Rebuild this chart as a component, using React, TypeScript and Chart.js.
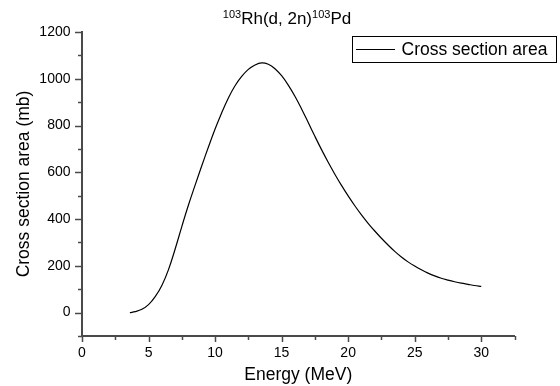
import React, { useEffect, useRef } from 'react';
import { Chart, registerables } from 'chart.js';

Chart.register(...registerables);

// ---- data ----
const energy = [
  3.6, 4.0, 4.5, 5.0, 5.5, 6.0, 6.5, 7.0, 7.5, 8.0, 8.5, 9.0, 9.5, 10.0, 10.5, 11.0, 11.5, 12.0,
  12.5, 13.0, 13.5, 14.0, 14.5, 15.0, 15.5, 16.0, 16.5, 17.0, 17.5, 18.0, 18.5, 19.0, 19.5, 20.0,
  20.5, 21.0, 21.5, 22.0, 22.5, 23.0, 23.5, 24.0, 24.5, 25.0, 25.5, 26.0, 26.5, 27.0, 27.5, 28.0,
  28.5, 29.0, 29.5, 30.0,
];
const crossSection = [
  0, 4, 14, 34, 68, 116, 184, 272, 368, 460, 545, 628, 708, 785, 855, 918, 970, 1010,
  1040, 1059, 1068, 1062, 1043, 1013, 973, 925, 871, 813, 754, 697, 643, 592, 544, 499,
  457, 418, 382, 349, 318, 289, 262, 238, 217, 199, 183, 169, 157, 147, 139, 132,
  126, 121, 116, 112,
];
const xMin = 0;
const xMax = 32.5;
const xMinorStep = 2.5;
const xMajorStep = 5;
const yMin = -100;
const yMax = 1200;
const yMinorStep = 100;
const yMajorStep = 200;

const titleParts = [
  { text: '103', sup: true },
  { text: 'Rh(d, 2n)', sup: false },
  { text: '103', sup: true },
  { text: 'Pd', sup: false },
];
const seriesLabel = 'Cross section area';
const xTitle = 'Energy (MeV)';
const yTitle = 'Cross section area (mb)';

const FONT = '"Liberation Sans", Arial, sans-serif';
const AXIS_COLOR = '#4a4a4a';

const isMultiple = (v: number, step: number) => Math.abs(v / step - Math.round(v / step)) < 1e-6;

const decorPlugin = {
  id: 'decor',
  afterDraw(chart: any) {
    const ctx = chart.ctx as CanvasRenderingContext2D;
    const xs = chart.scales.x;
    const ys = chart.scales.y;
    const area = chart.chartArea;
    ctx.save();
    // tick marks (major and minor), outward
    ctx.strokeStyle = AXIS_COLOR;
    ctx.lineWidth = 1.5;
    xs.ticks.forEach((t: any) => {
      const px = Math.round(xs.getPixelForValue(t.value)) + 0.5;
      const len = isMultiple(t.value, xMajorStep) ? 5 : 3;
      ctx.beginPath();
      ctx.moveTo(px, area.bottom);
      ctx.lineTo(px, area.bottom + len + 1);
      ctx.stroke();
    });
    ys.ticks.forEach((t: any) => {
      const py = Math.round(ys.getPixelForValue(t.value)) + 0.5;
      const len = isMultiple(t.value, yMajorStep) ? 6 : 3;
      ctx.beginPath();
      ctx.moveTo(area.left, py);
      ctx.lineTo(area.left - len - 1, py);
      ctx.stroke();
    });

    // title with superscripts
    const mainFont = `17px ${FONT}`;
    const supFont = `11px ${FONT}`;
    let total = 0;
    titleParts.forEach((p) => {
      ctx.font = p.sup ? supFont : mainFont;
      total += ctx.measureText(p.text).width;
    });
    let x = 287 - total / 2;
    const baseY = 24;
    ctx.fillStyle = '#000';
    ctx.textBaseline = 'alphabetic';
    ctx.textAlign = 'left';
    titleParts.forEach((p) => {
      ctx.font = p.sup ? supFont : mainFont;
      ctx.fillText(p.text, x, p.sup ? baseY - 6 : baseY);
      x += ctx.measureText(p.text).width;
    });

    // legend box
    const lx = 352.5;
    const ly = 36.5;
    const lw = 204;
    const lh = 26;
    ctx.strokeStyle = '#000';
    ctx.lineWidth = 1;
    ctx.strokeRect(lx, ly, lw, lh);
    ctx.beginPath();
    ctx.moveTo(356, 49.5);
    ctx.lineTo(395, 49.5);
    ctx.lineWidth = 1.2;
    ctx.stroke();
    ctx.font = `17.5px ${FONT}`;
    ctx.textBaseline = 'middle';
    ctx.fillText(seriesLabel, 401.5, 50);
    ctx.restore();
  },
};

export default function App() {
  const canvasRef = useRef<HTMLCanvasElement | null>(null);

  useEffect(() => {
    const canvas = canvasRef.current;
    if (!canvas) return;
    const points = energy.map((e, i) => ({ x: e, y: crossSection[i] }));
    const chart = new Chart(canvas, {
      type: 'line',
      data: {
        datasets: [
          {
            label: seriesLabel,
            data: points,
            borderColor: '#000',
            borderWidth: 1.2,
            pointRadius: 0,
            fill: false,
            tension: 0.4,
          },
        ],
      },
      options: {
        animation: false,
        responsive: false,
        devicePixelRatio: 1,
        layout: { padding: { top: 32, right: 45.5, bottom: 0, left: 0 } },
        plugins: {
          legend: { display: false },
          title: { display: false },
          tooltip: { enabled: false },
        },
        scales: {
          x: {
            type: 'linear',
            min: xMin,
            max: xMax,
            afterFit: (s: any) => {
              s.height = 50;
            },
            ticks: {
              stepSize: xMinorStep,
              autoSkip: false,
              maxRotation: 0,
              padding: 9,
              color: '#000',
              font: { family: FONT, size: 14 },
              callback: (v: any) => (isMultiple(Number(v), xMajorStep) ? String(v) : ''),
            },
            grid: { display: false, drawTicks: false, drawOnChartArea: false },
            border: { display: true, color: AXIS_COLOR, width: 2 },
            title: {
              display: true,
              text: xTitle,
              color: '#000',
              font: { family: FONT, size: 17.5 },
              padding: { top: 0, bottom: 0 },
            },
          },
          y: {
            type: 'linear',
            min: yMin,
            max: yMax,
            afterFit: (s: any) => {
              s.width = 82;
            },
            ticks: {
              stepSize: yMinorStep,
              autoSkip: false,
              padding: 11.5,
              color: '#000',
              font: { family: FONT, size: 14 },
              callback: (v: any) => (isMultiple(Number(v), yMajorStep) && Number(v) >= 0 ? String(v) : ''),
            },
            grid: { display: false, drawTicks: false, drawOnChartArea: false },
            border: { display: true, color: AXIS_COLOR, width: 2 },
            title: {
              display: true,
              text: yTitle,
              color: '#000',
              font: { family: FONT, size: 17.5 },
              padding: { top: 13.5, bottom: 0 },
            },
          },
        },
      },
      plugins: [decorPlugin],
    });
    return () => chart.destroy();
  }, []);

  return (
    <div style={{ position: 'fixed', left: 0, top: 0, width: 560, height: 386, background: '#fff' }}>
      <canvas ref={canvasRef} width={560} height={386} style={{ display: 'block' }} />
    </div>
  );
}
